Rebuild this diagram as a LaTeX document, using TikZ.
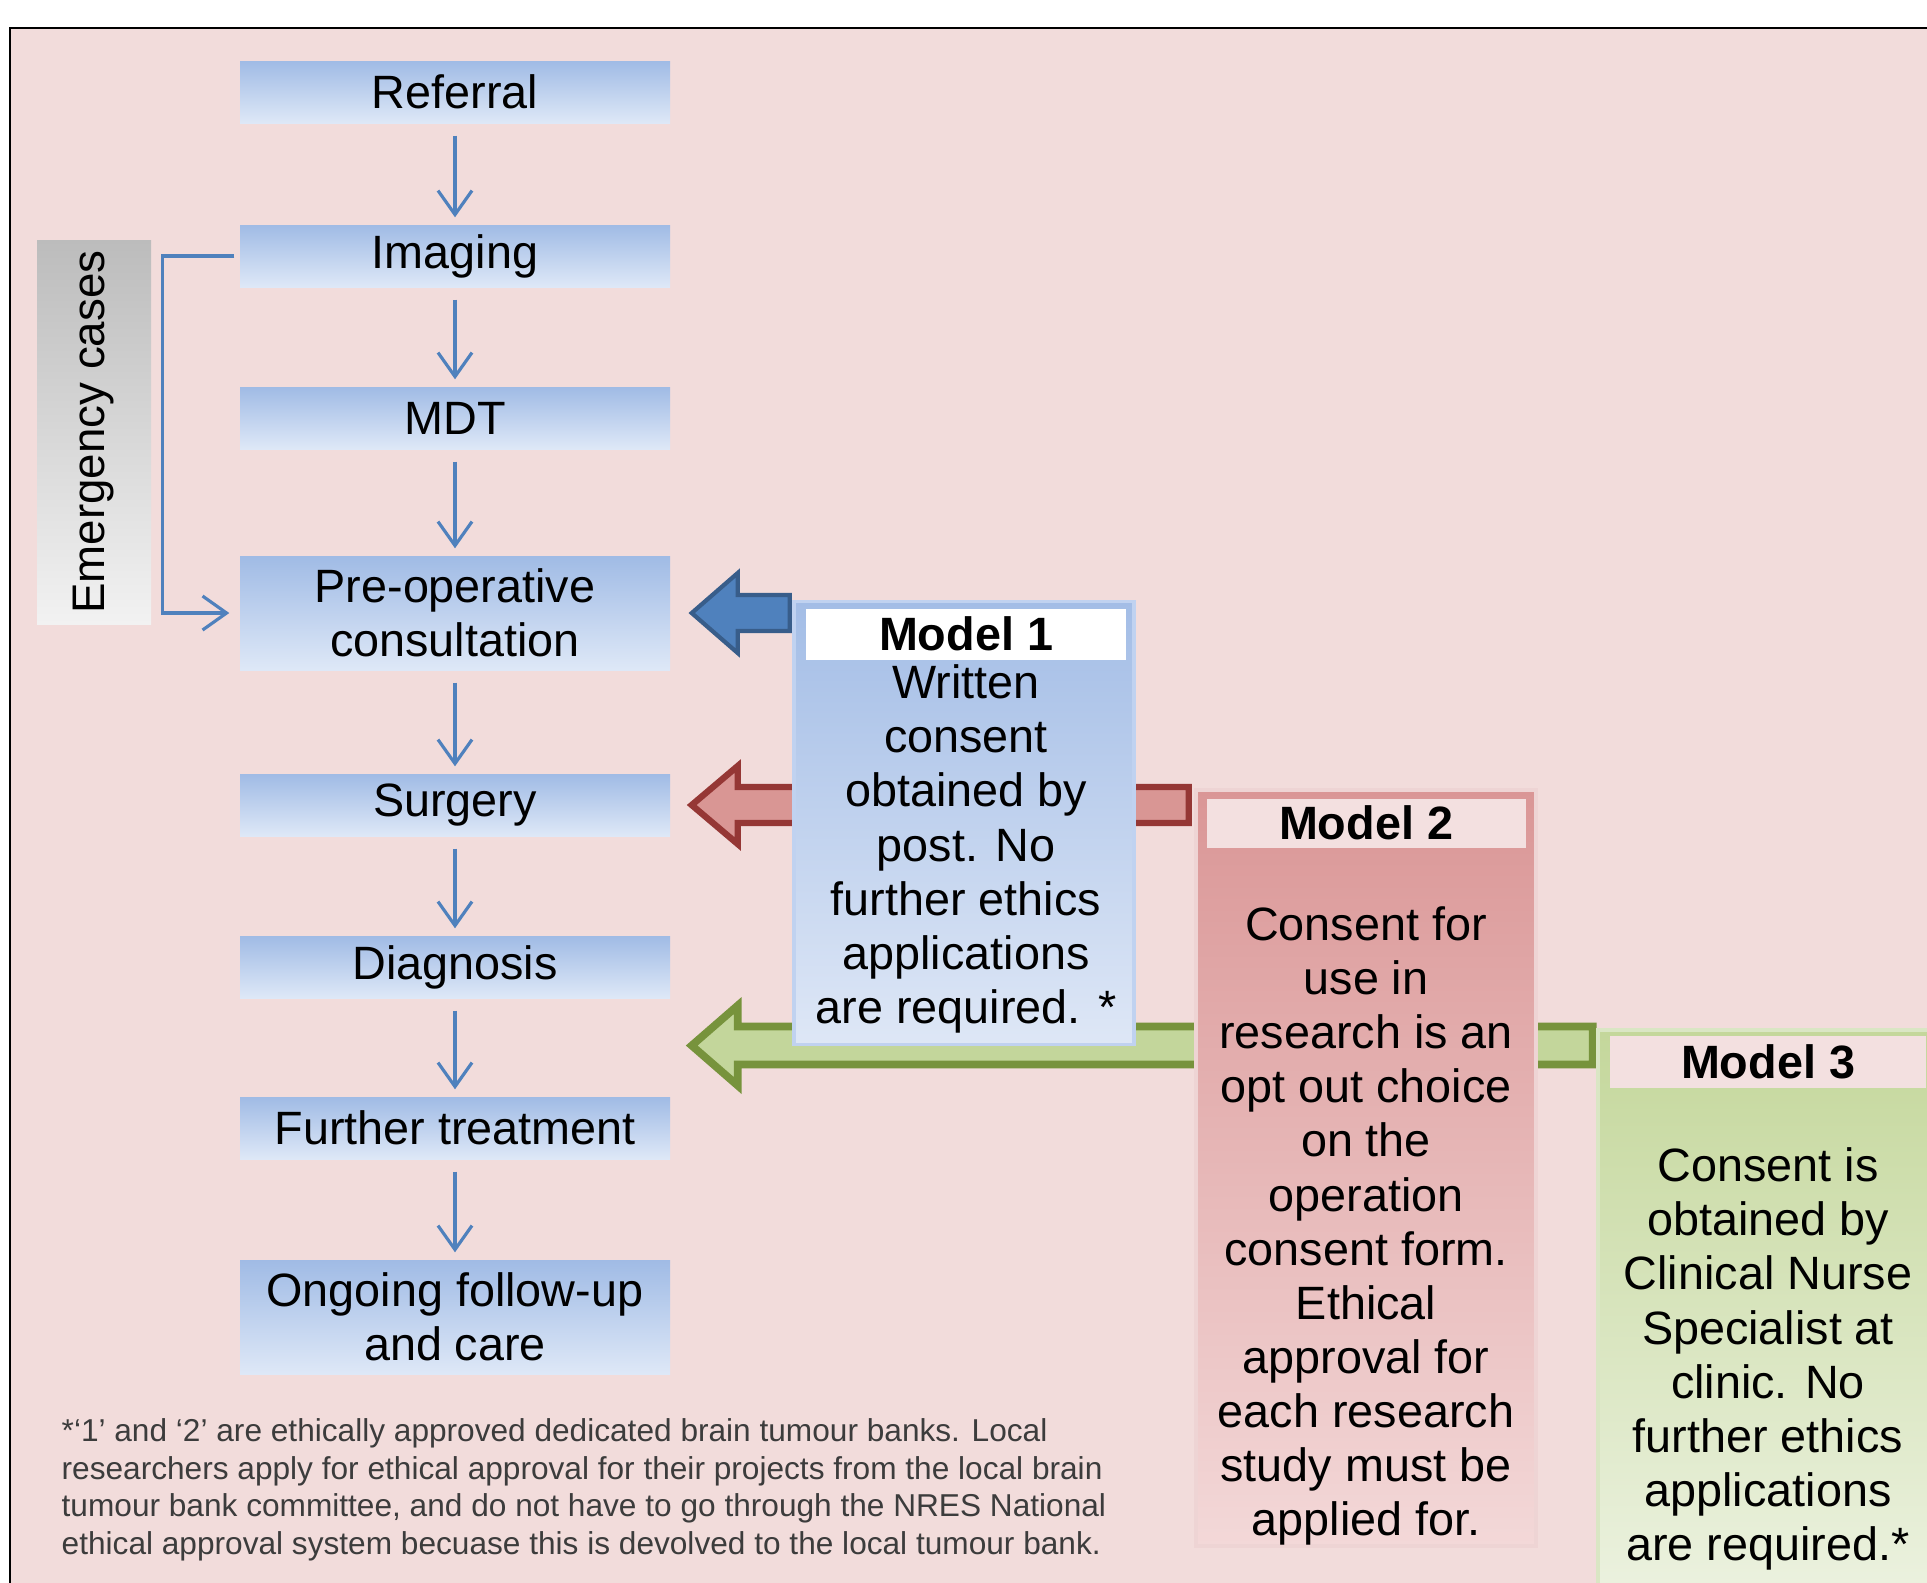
\documentclass[tikz,border=0pt]{standalone}
\usepackage{fontspec}
\setmainfont{Liberation Sans}
\usetikzlibrary{arrows.meta,calc}

\definecolor{bgpink}{RGB}{242,220,219}
\definecolor{stageTop}{RGB}{160,187,229}
\definecolor{stageBot}{RGB}{222,232,247}
\definecolor{flowblue}{RGB}{79,129,189}
\definecolor{greyTop}{RGB}{188,188,188}
\definecolor{greyBot}{RGB}{242,242,242}
\definecolor{arrBlue}{RGB}{79,129,189}
\definecolor{arrBlueLine}{RGB}{56,93,138}
\definecolor{arrRed}{RGB}{217,150,148}
\definecolor{arrRedLine}{RGB}{149,55,53}
\definecolor{arrGreen}{RGB}{195,214,155}
\definecolor{arrGreenLine}{RGB}{119,147,60}
\definecolor{mOneTop}{RGB}{163,189,230}
\definecolor{mOneBot}{RGB}{222,231,246}
\definecolor{mOneEdge}{RGB}{192,210,240}
\definecolor{mTwoTop}{RGB}{218,150,150}
\definecolor{mTwoBot}{RGB}{243,216,216}
\definecolor{mTwoEdge}{RGB}{238,212,212}
\definecolor{mThreeTop}{RGB}{196,215,155}
\definecolor{mThreeBot}{RGB}{236,242,224}
\definecolor{mThreeEdge}{RGB}{218,230,196}
\definecolor{headPink}{RGB}{243,224,224}
\definecolor{notegray}{RGB}{60,60,60}

\tikzset{
  stage/.style={top color=stageTop,bottom color=stageBot,minimum width=43mm,
    minimum height=6.2mm,inner sep=0pt,align=center,
    font=\fontsize{13.3}{15.4}\selectfont},
  tall/.style={minimum height=11.4mm},
  flow/.style={draw=flowblue,line width=0.9pt,
    -{Straight Barb[length=2.4mm,width=3.4mm]},shorten <=1.2mm,shorten >=0.7mm},
  model/.style={minimum width=34mm,inner sep=0pt,line width=1pt},
  mhead/.style={fill=white,minimum width=32mm,minimum height=5.1mm,inner sep=0pt,
    font=\fontsize{13.3}{15.4}\selectfont\bfseries},
  mtext/.style={align=center,inner sep=0pt,font=\fontsize{13.3}{15.4}\selectfont},
}

\begin{document}
\begin{tikzpicture}[x=0.1mm,y=-0.1mm]
        \useasboundingbox (0,0) rectangle (1927,1582) ;
        \clip (0,0) rectangle (1927,1582) ;
        %\draw[very thin,gray,step=100] (0,0) grid (1927,1582) ;
        \fill[white] (0,0) rectangle (1927,1582) ;
        \draw[fill=bgpink,line width=0.6pt] (10,28) rectangle (1990,1650) ;

        % pathway
        \node[stage] (ref) at (455,92) {Referral} ;
        \node[stage] (img) at (455,256) {Imaging} ;
        \node[stage] (mdt) at (455,418) {MDT} ;
        \node[stage,tall] (preop) at (455,613) {Pre-operative\\consultation} ;
        \node[stage] (surg) at (455,805) {Surgery} ;
        \node[stage] (diag) at (455,967) {Diagnosis} ;
        \node[stage] (treat) at (455,1128) {Further treatment} ;
        \node[stage,tall] (care) at (455,1317) {Ongoing follow-up\\and care} ;
        \foreach \a/\b in {ref/img,img/mdt,mdt/preop,preop/surg,surg/diag,diag/treat,treat/care}
          \draw[flow] (\a) -- (\b) ;

        % emergency route
        \node[top color=greyTop,bottom color=greyBot,minimum width=11.4mm,
          minimum height=38.4mm,inner sep=0pt] (emerg) at (94,432) {} ;
        \node[rotate=90,inner sep=0pt,font=\fontsize{13}{15.4}\selectfont]
          (emergtxt) at (emerg.center) {Emergency cases} ;
        \draw[flow,shorten <=0.5mm,shorten >=1mm] (img.west) -- ++(-77,0) |- (preop.west) ;

        % block arrows (behind the models)
        \coordinate (b1) at ([xshift=2.1mm]preop.east) ;
        \coordinate (b2) at ([xshift=2.1mm]surg.east) ;
        \coordinate (b3) at ($(diag.east)!.5!(treat.east)+(21,-2)$) ;
        \draw[fill=arrBlue,draw=arrBlueLine,line width=1.2pt,line join=miter]
          (b1) -- ++(46,-40) -- ++(0,22) -- ++(52,0) -- ++(0,36) -- ++(-52,0) -- ++(0,22) -- cycle ;
        \draw[fill=arrRed,draw=arrRedLine,line width=1.8pt,line join=miter]
          (b2) -- ++(46,-39) -- ++(0,21) -- ++(451,0) -- ++(0,36) -- ++(-451,0) -- ++(0,21) -- cycle ;
        \draw[fill=arrGreen,draw=arrGreenLine,line width=2.2pt,line join=miter]
          (b3) -- ++(46,-40) -- ++(0,21) -- ++(855,0) -- ++(0,38) -- ++(-855,0) -- ++(0,21) -- cycle ;

        % model 1
        \node[model,top color=mOneTop,bottom color=mOneBot,draw=mOneEdge,
          minimum height=44.3mm] (m1) at (964,823) {} ;
        \node[mhead] (m1h) at (966,634) {Model 1} ;
        \node[mtext] (m1t) at (966,849) {Written\\consent\\obtained by\\post. No\\further ethics\\applications\\are required. *} ;

        % model 2
        \node[model,top color=mTwoTop,bottom color=mTwoBot,draw=mTwoEdge,
          minimum height=75.6mm] (m2) at (1366,1168) {} ;
        \node[mhead,fill=headPink,minimum width=31.9mm,minimum height=4.9mm] (m2h) at (1366,823) {Model 2} ;
        \node[mtext] (m2t) at (1366,1226) {Consent for\\use in\\research is an\\opt out choice\\on the\\operation\\consent form.\\Ethical\\approval for\\each research\\study must be\\applied for.} ;

        % model 3
        \node[model,top color=mThreeTop,bottom color=mThreeBot,draw=mThreeEdge,
          minimum height=57mm] (m3) at (1768,1315) {} ;
        \node[mhead,fill=headPink,minimum width=31.6mm,minimum height=5.2mm] (m3h) at (1768,1062) {Model 3} ;
        \node[mtext] (m3t) at (1768,1359) {Consent is\\obtained by\\Clinical Nurse\\Specialist at\\clinic. No\\further ethics\\applications\\are required.*} ;

        % footnote
        \node[anchor=north west,align=left,inner sep=0pt,text=notegray,
          font=\fontsize{9}{10.7}\selectfont] (note) at (61,1418)
          {*`1' and `2' are ethically approved dedicated brain tumour banks. Local\\
           researchers apply for ethical approval for their projects from the local brain\\
           tumour bank committee, and do not have to go through the NRES National\\
           ethical approval system becuase this is devolved to the local tumour bank.} ;
\end{tikzpicture}
\end{document}
